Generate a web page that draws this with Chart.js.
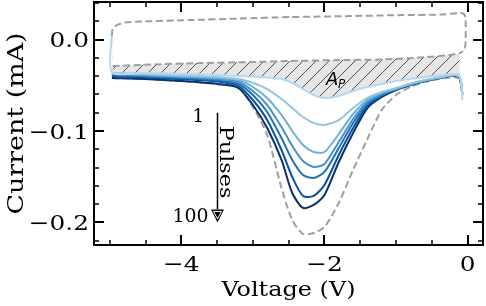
<!DOCTYPE html>
<html>
<head>
<meta charset="utf-8">
<script src="https://cdn.jsdelivr.net/npm/chart.js@4.4.0/dist/chart.umd.min.js"></script>
<style>
  html, body { margin: 0; padding: 0; background: #fff; }
</style>
</head>
<body>
<canvas id="cv" width="486" height="306"></canvas>
<script>
// shared voltage grid of the reduction sweep (V)
const voltage = [-4.97, -4.5, -4.0, -3.5, -3.2, -3.0, -2.8, -2.6, -2.45, -2.3, -2.15, -2.0,
    -1.8, -1.6, -1.4, -1.2, -1.0, -0.8, -0.6, -0.4, -0.2, -0.12, -0.09, -0.075];

// current of each pulse curve on that grid (mA), light -> dark
const pulse1 = [-0.0355, -0.0366, -0.0377, -0.0388, -0.0399, -0.0404, -0.0415, -0.0432, -0.0475, -0.0541, -0.0607, -0.0639,
    -0.0617, -0.0563, -0.0519, -0.0486, -0.0454, -0.0432, -0.0410, -0.0393, -0.0377, -0.0388, -0.0464, -0.0661];
const pulse2 = [-0.0366, -0.0377, -0.0393, -0.0410, -0.0432, -0.0475, -0.0541, -0.0650, -0.0749, -0.0847, -0.0913, -0.0934,
    -0.0880, -0.0749, -0.0639, -0.0574, -0.0530, -0.0486, -0.0443, -0.0415, -0.0388, -0.0399, -0.0475, -0.0617];
const pulse3 = [-0.0372, -0.0388, -0.0404, -0.0421, -0.0443, -0.0519, -0.0639, -0.0825, -0.1000, -0.1153, -0.1230, -0.1230,
    -0.1033, -0.0814, -0.0661, -0.0585, -0.0536, -0.0486, -0.0448, -0.0415, -0.0388, -0.0399, -0.0475, -0.0607];
const pulse4 = [-0.0377, -0.0393, -0.0410, -0.0432, -0.0464, -0.0563, -0.0716, -0.0956, -0.1164, -0.1328, -0.1393, -0.1361,
    -0.1120, -0.0869, -0.0683, -0.0596, -0.0541, -0.0486, -0.0448, -0.0421, -0.0388, -0.0399, -0.0486, -0.0607];
const pulse5 = [-0.0388, -0.0404, -0.0421, -0.0443, -0.0486, -0.0607, -0.0792, -0.1077, -0.1317, -0.1481, -0.1514, -0.1448,
    -0.1186, -0.0913, -0.0705, -0.0607, -0.0541, -0.0492, -0.0454, -0.0421, -0.0393, -0.0404, -0.0486, -0.0596];
const pulse6 = [-0.0399, -0.0415, -0.0432, -0.0459, -0.0508, -0.0661, -0.0880, -0.1208, -0.1503, -0.1710, -0.1710, -0.1590,
    -0.1262, -0.0967, -0.0727, -0.0617, -0.0546, -0.0497, -0.0454, -0.0421, -0.0393, -0.0404, -0.0486, -0.0596];
const pulse7 = [-0.0421, -0.0432, -0.0454, -0.0486, -0.0530, -0.0716, -0.0967, -0.1317, -0.1678, -0.1842, -0.1809, -0.1699,
    -0.1339, -0.1022, -0.0749, -0.0628, -0.0552, -0.0497, -0.0454, -0.0421, -0.0393, -0.0410, -0.0497, -0.0585];
// top of the vertical return at -5 V (mA)
const scanTop = 0.0071;

// reference curve with the deepest peak (dashed), on the first 22 grid voltages
const refCurrent = [-0.0421, -0.0432, -0.0454, -0.0486, -0.0530, -0.0738, -0.1044, -0.1623, -0.1973, -0.2126, -0.2115, -0.2049,
    -0.1787, -0.1426, -0.1087, -0.0770, -0.0607, -0.0519, -0.0464, -0.0432, -0.0410, -0.0421];

// baseline loop: upper branch and right edge
const loopV = [-4.97, -4.96, -4.90, -4.79, -4.58, -3.88, -3.18, -2.49, -1.65, -0.91, -0.39, -0.10, -0.06, -0.03, -0.03, -0.06, -0.11];
const loopI = [0.0038, 0.0115, 0.0158, 0.0186, 0.0197, 0.0213, 0.0230, 0.0246, 0.0257, 0.0268, 0.0273, 0.0290, 0.0284, 0.0246, -0.0060, -0.0126, -0.0148];
// baseline loop: lower branch (top edge of the hatched area A_P)
const baseV = [-4.96, -4.44, -3.74, -3.04, -2.49, -1.79, -1.23, -0.67, -0.25, -0.11];
const baseI = [-0.0290, -0.0273, -0.0257, -0.0246, -0.0235, -0.0224, -0.0219, -0.0197, -0.0169, -0.0148];

const pulseSeries = [pulse1, pulse2, pulse3, pulse4, pulse5, pulse6, pulse7];
const pulseColors = ['#bad6eb', '#94c4df', '#6baed6', '#4292c6', '#2171b5', '#08519c', '#08306b'];

const xTicks = [-4, -2, 0];
const xTickLabels = ['\u22124', '\u22122', '0'];
const yTicks = [-0.2, -0.1, 0];
const yTickLabels = ['\u22120.2', '\u22120.1', '0.0'];

const toPoints = (xs, ys) => ys.map((v, i) => ({ x: xs[i], y: v }));

const makeHatch = () => {
    const c = document.createElement('canvas');
    const s = 13;
    c.width = s;
    c.height = s;
    const g = c.getContext('2d');
    g.fillStyle = '#e6e6e6';
    g.fillRect(0, 0, s, s);
    g.strokeStyle = '#505050';
    g.lineWidth = 1;
    g.beginPath();
    g.moveTo(0, s); g.lineTo(s, 0);
    g.moveTo(-2, 2); g.lineTo(2, -2);
    g.moveTo(s - 2, s + 2); g.lineTo(s + 2, s - 2);
    g.stroke();
    return g.createPattern(c, 'repeat');
};

const grayDash = '#9e9e9e';

// text drawn with the glyphs widened along the reading direction
const wideText = (ctx, text, px, py, size, sx, align, baseline, angle = 0) => {
    ctx.save();
    ctx.translate(px, py);
    ctx.rotate(angle);
    ctx.scale(sx, 1);
    ctx.font = size + 'px "DejaVu Serif"';
    ctx.textAlign = align;
    ctx.textBaseline = baseline;
    ctx.fillText(text, 0, 0);
    ctx.restore();
};

const datasets = [
    {
        data: toPoints(loopV, loopI),
        borderColor: grayDash, borderWidth: 2, borderDash: [7, 3.5],
        showLine: true, pointRadius: 0, fill: false, tension: 0.2,
    },
    {
        data: toPoints(baseV, baseI),
        borderColor: grayDash, borderWidth: 2, borderDash: [7, 3.5],
        showLine: true, pointRadius: 0, tension: 0.2,
        fill: 2, backgroundColor: makeHatch(),
    },
];
pulseSeries.forEach((series, i) => {
    const pts = toPoints(voltage, series);
    if (i === 0) pts.unshift({ x: voltage[0], y: scanTop });
    datasets.push({
        data: pts,
        borderColor: pulseColors[i], borderWidth: 2,
        showLine: true, pointRadius: 0, fill: false, tension: 0.25,
    });
});
datasets.push({
    data: toPoints(voltage, refCurrent),
    borderColor: grayDash, borderWidth: 2, borderDash: [7, 3.5],
    showLine: true, pointRadius: 0, fill: false, tension: 0.25,
});

const frameAndNotes = {
    id: 'frameAndNotes',
    afterDraw(chart) {
        const { ctx, chartArea: a, scales: { x, y } } = chart;
        ctx.save();
        ctx.strokeStyle = '#000';
        ctx.fillStyle = '#000';
        ctx.lineCap = 'butt';

        // inward ticks on all four sides
        for (let k = Math.ceil(x.min / 0.5); k * 0.5 <= x.max + 1e-9; k++) {
            const major = k % 4 === 0;
            const len = major ? 10 : 5;
            const px = Math.round(x.getPixelForValue(k * 0.5));
            ctx.lineWidth = major ? 2 : 1.5;
            ctx.beginPath();
            ctx.moveTo(px, a.bottom); ctx.lineTo(px, a.bottom - len);
            ctx.moveTo(px, a.top); ctx.lineTo(px, a.top + len);
            ctx.stroke();
        }
        for (let k = Math.ceil(y.min / 0.02); k * 0.02 <= y.max + 1e-9; k++) {
            const major = k % 5 === 0;
            const len = major ? 10 : 5;
            const py = Math.round(y.getPixelForValue(k * 0.02));
            ctx.lineWidth = major ? 2 : 1.5;
            ctx.beginPath();
            ctx.moveTo(a.left, py); ctx.lineTo(a.left + len, py);
            ctx.moveTo(a.right, py); ctx.lineTo(a.right - len, py);
            ctx.stroke();
        }
        ctx.lineWidth = 2;
        ctx.strokeRect(a.left, a.top, a.right - a.left, a.bottom - a.top);

        // tick labels and axis titles
        xTicks.forEach((v, i) => wideText(ctx, xTickLabels[i], x.getPixelForValue(v), a.bottom + 26, 21, 1.18, 'center', 'alphabetic'));
        yTicks.forEach((v, i) => wideText(ctx, yTickLabels[i], a.left - 5, y.getPixelForValue(v) + 7.6, 21, 1.18, 'right', 'alphabetic'));
        wideText(ctx, 'Voltage (V)', (a.left + a.right) / 2, 296, 21, 1.14, 'center', 'alphabetic');
        wideText(ctx, 'Current (mA)', 22.5, (a.top + a.bottom) / 2, 23, 1.17, 'center', 'alphabetic', -Math.PI / 2);

        // A_P label
        ctx.textAlign = 'left';
        ctx.textBaseline = 'alphabetic';
        ctx.font = 'italic 18px "DejaVu Sans"';
        const ax = x.getPixelForValue(-1.98);
        const ay = y.getPixelForValue(-0.0497);
        ctx.fillText('A', ax, ay);
        ctx.font = 'italic 12px "DejaVu Sans"';
        ctx.fillText('P', ax + 12, ay + 3);

        // pulses arrow
        const arX = Math.round(x.getPixelForValue(-3.5)) + 0.5;
        const arTop = y.getPixelForValue(-0.08);
        const arTip = y.getPixelForValue(-0.2);
        const headH = 13;
        ctx.lineWidth = 1.5;
        ctx.beginPath();
        ctx.moveTo(arX, arTop); ctx.lineTo(arX, arTip - headH);
        ctx.stroke();
        ctx.beginPath();
        ctx.moveTo(arX, arTip); ctx.lineTo(arX - 6.5, arTip - headH); ctx.lineTo(arX + 6.5, arTip - headH);
        ctx.closePath();
        ctx.fill();
        ctx.strokeStyle = '#fff';
        ctx.lineWidth = 1;
        ctx.beginPath();
        ctx.moveTo(arX, arTip - 3.5); ctx.lineTo(arX - 4, arTip - headH + 2); ctx.lineTo(arX + 4, arTip - headH + 2);
        ctx.closePath();
        ctx.stroke();

        wideText(ctx, '1', x.getPixelForValue(-3.68), y.getPixelForValue(-0.0847), 18, 1.05, 'right', 'middle');
        wideText(ctx, '100', x.getPixelForValue(-3.62), y.getPixelForValue(-0.194), 18, 1.05, 'right', 'middle');
        wideText(ctx, 'Pulses', x.getPixelForValue(-3.39), y.getPixelForValue(-0.134), 18, 1.24, 'center', 'middle', Math.PI / 2);

        ctx.restore();
    },
};

new Chart(document.getElementById('cv'), {
    type: 'scatter',
    data: { datasets },
    plugins: [frameAndNotes],
    options: {
        responsive: false,
        animation: false,
        events: [],
        layout: { padding: { left: 0, right: 3, top: 2, bottom: 0 } },
        plugins: {
            legend: { display: false },
            tooltip: { enabled: false },
            filler: { drawTime: 'beforeDatasetsDraw' },
        },
        scales: {
            x: {
                type: 'linear',
                min: -5.22, max: 0.215,
                grid: { display: false, drawTicks: false },
                border: { display: false },
                ticks: { display: false },
                afterFit: (scale) => {
                    scale.height = 61;
                    scale.paddingLeft = 0;
                    scale.paddingRight = 0;
                },
            },
            y: {
                type: 'linear',
                min: -0.2247, max: 0.0411,
                grid: { display: false, drawTicks: false },
                border: { display: false },
                ticks: { display: false },
                afterFit: (scale) => {
                    scale.width = 94;
                    scale.paddingTop = 0;
                    scale.paddingBottom = 0;
                },
            },
        },
    },
});
</script>
</body>
</html>
